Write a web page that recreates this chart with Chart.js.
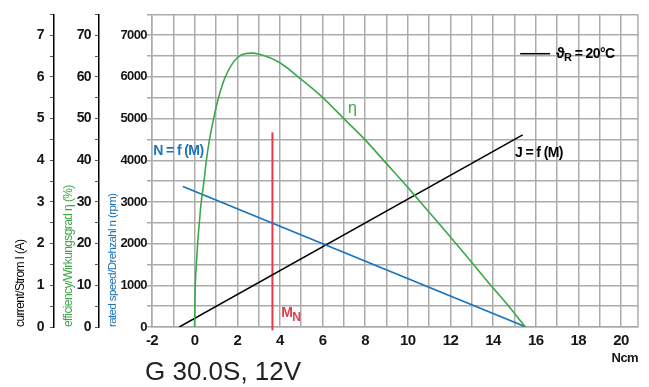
<!DOCTYPE html>
<html>
<head>
<meta charset="utf-8">
<script src="https://cdn.jsdelivr.net/npm/chart.js@4/dist/chart.umd.min.js"></script>
<style>
  html, body { margin: 0; padding: 0; background: #fff; }
  #wrap { width: 649px; height: 387px; }
</style>
</head>
<body>
<div id="wrap"><canvas id="chart" width="649" height="387"></canvas></div>
<script>
const speedTorque   = [-0.55, 15.55];          // Ncm
const speedRpm      = [3370, 0];               // rpm
const currentTorque = [-0.72, 15.39];          // Ncm
const currentAmp    = [0, 4.61];               // A
const effTorque = [0, 0.01, 0.03, 0.08, 0.14, 0.22, 0.31, 0.44, 0.55, 0.70, 0.89, 1.12, 1.44,
                   2.0, 2.69, 3.0, 4.0, 5.0, 6.0, 7.0, 8.0, 9.0, 10.0, 10.89, 11.9, 12.92,
                   13.86, 14.64, 15.52];
const effPct    = [0, 5, 10, 15, 20, 25, 30, 35, 40, 45, 50, 55, 60,
                   64.6, 65.7, 65.5, 63.4, 59.4, 55.1, 50.0, 44.9, 39.2, 33.5, 28.2, 22.2, 16.0,
                   10.2, 5.6, 0];
const ratedTorque = 3.65;                      // M_N
const ratedSpan   = [-80, 4670];               // rpm extent of the marker

const C = {
  green: '#3ca847',
  blue:  '#1b74ba',
  red:   '#e63a4b',
  grid:  '#ababab',
  text:  '#161616',
};
// no condensed face is installed, so a plain sans is tightened with letter spacing
const SANS = "'Liberation Sans', Arial, sans-serif";
const TIGHT = '-0.6px';

const pts = (xs, ys) => xs.map((x, i) => ({ x, y: ys[i] }));

// ── free text on the plot ───────────────────────────────────────────────────
function withSub(ctx, x, y, main, small, font, subFont) {
  ctx.font = font;
  ctx.fillText(main, x, y);
  const w = ctx.measureText(main).width;
  ctx.font = subFont;
  ctx.fillText(small, x + w, y + 4);
  return x + w + ctx.measureText(small).width;
}

const notes = {
  id: 'notes',
  beforeDraw(chart) {
    chart.ctx.letterSpacing = TIGHT;
  },
  beforeDatasetsDraw(chart) {
    const { ctx, chartArea: a } = chart;
    ctx.save();
    ctx.strokeStyle = C.grid;
    ctx.lineWidth = 1.5;
    ctx.beginPath();
    ctx.moveTo(a.right, a.top);
    ctx.lineTo(a.right, a.bottom);
    ctx.stroke();
    ctx.restore();
  },
  afterDatasetsDraw(chart) {
    const { ctx, scales: { x, y } } = chart;
    const px = v => x.getPixelForValue(v);
    const py = v => y.getPixelForValue(v);
    ctx.save();
    ctx.letterSpacing = TIGHT;
    ctx.textBaseline = 'middle';
    ctx.textAlign = 'left';

    ctx.fillStyle = C.blue;
    ctx.font = `bold 14px ${SANS}`;
    ctx.fillText('N = f (M)', px(-1.94), py(4220));

    ctx.fillStyle = '#000';
    ctx.fillText('J = f (M)', px(15.03), py(4175));

    ctx.fillStyle = C.green;
    ctx.font = `16px ${SANS}`;
    ctx.fillText('η', px(7.2), py(5236));

    ctx.fillStyle = C.red;
    withSub(ctx, px(4.06), py(330), 'M', 'N', `bold 14px ${SANS}`, `bold 12px ${SANS}`);

    // temperature key
    ctx.strokeStyle = '#000';
    ctx.lineWidth = 1.5;
    ctx.beginPath();
    ctx.moveTo(px(15.27), py(6557));
    ctx.lineTo(px(16.68), py(6557));
    ctx.stroke();
    ctx.fillStyle = '#000';
    const end = withSub(ctx, px(16.95), py(6557), 'ϑ', 'R', `bold 15px ${SANS}`, `bold 11px ${SANS}`);
    ctx.font = `bold 14px ${SANS}`;
    ctx.fillText(' = 20°C', end, py(6557));

    // motor name under the axis
    ctx.letterSpacing = '0px';
    ctx.textBaseline = 'alphabetic';
    ctx.fillStyle = '#222';
    ctx.font = `26px ${SANS}`;
    ctx.fillText('G 30.0S, 12V', 145, 380);
    ctx.restore();
  },
};

const tickFont = size => ({ family: SANS, size, weight: 'bold' });

new Chart(document.getElementById('chart'), {
  type: 'line',
  data: {
    datasets: [
      { label: 'η', data: pts(effTorque, effPct), yAxisID: 'yEff',
        borderColor: C.green, borderWidth: 1.6, pointRadius: 0, cubicInterpolationMode: 'monotone' },
      { label: 'N = f (M)', data: pts(speedTorque, speedRpm), yAxisID: 'y',
        borderColor: C.blue, borderWidth: 1.7, pointRadius: 0 },
      { label: 'J = f (M)', data: pts(currentTorque, currentAmp), yAxisID: 'yCur',
        borderColor: '#000', borderWidth: 1.5, pointRadius: 0 },
      { label: 'MN', data: pts([ratedTorque, ratedTorque], ratedSpan), yAxisID: 'y',
        borderColor: C.red, borderWidth: 2, pointRadius: 0, clip: false },
    ],
  },
  options: {
    responsive: false, animation: false,
    layout: { padding: { left: 0, top: 9, right: 11, bottom: 20 } },
    plugins: { legend: { display: false }, tooltip: { enabled: false } },
    scales: {
      x: {
        type: 'linear', min: -2, max: 20.8,
        grid: { color: C.grid, lineWidth: 1.5, drawTicks: false },
        border: { color: C.grid, width: 1.5 },
        ticks: { stepSize: 1, includeBounds: false, autoSkip: false, maxRotation: 0, padding: 5,
                 color: C.text, font: tickFont(15),
                 callback: v => (v % 2 === 0 ? String(v) : '') },
        title: { display: true, text: 'Ncm', align: 'end', color: C.text,
                 font: tickFont(13), padding: { top: 0, bottom: 1 } },
        afterFit: s => { s.height = 40; },
      },
      y: {
        position: 'left', weight: 0, min: 0, max: 7500,
        grid: { color: C.grid, lineWidth: 1.5, tickLength: 5 },
        border: { color: C.grid, width: 1.5 },
        ticks: { stepSize: 500, autoSkip: false, padding: 0, color: C.text, font: tickFont(13),
                 callback: v => (v % 1000 === 0 ? String(v) : '') },
        title: { display: true, text: 'rated speed/Drehzahl n (rpm)', align: 'start', color: C.blue,
                 font: { family: SANS, size: 11.5 }, padding: { top: 7, bottom: 0 } },
        afterFit: s => { s.width = 53; },
      },
      yEff: {
        position: 'left', weight: 1, min: 0, max: 75,
        grid: { drawOnChartArea: false, color: '#555', lineWidth: 1, tickLength: 4 },
        border: { color: '#000', width: 1.5 },
        ticks: { stepSize: 5, autoSkip: false, padding: 4, color: C.text, font: tickFont(14),
                 callback: v => (v % 10 === 0 ? String(v) : '') },
        title: { display: true, text: 'efficiency/Wirkungsgrad η (%)', align: 'start', color: C.green,
                 font: { family: SANS, size: 12 }, padding: { top: 7, bottom: 0 } },
        afterFit: s => { s.width = 45; },
      },
      yCur: {
        position: 'left', weight: 2, min: 0, max: 7.5,
        grid: { drawOnChartArea: false, color: '#555', lineWidth: 1, tickLength: 4 },
        border: { color: '#000', width: 1.5 },
        ticks: { stepSize: 0.5, autoSkip: false, padding: 6, color: C.text, font: tickFont(14),
                 callback: v => (Number.isInteger(v) ? String(v) : '') },
        title: { display: true, text: 'current/Strom I (A)', align: 'start', color: '#000',
                 font: { family: SANS, size: 12 }, padding: { top: 13, bottom: 0 } },
        afterFit: s => { s.width = 54; },
      },
    },
  },
  plugins: [notes],
});
</script>
</body>
</html>
